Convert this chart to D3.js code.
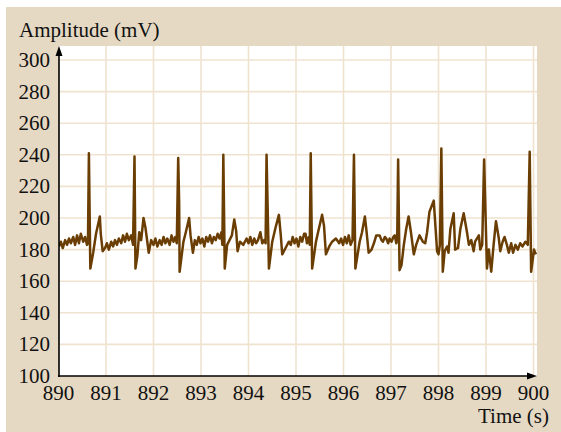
<!DOCTYPE html>
<html lang="en">

<head>
    <meta charset="UTF-8">
    <title>Amplitude vs Time</title>
    <script src="https://cdn.jsdelivr.net/npm/d3@7/dist/d3.min.js"></script>
    <style>
        body { margin: 0; background: #fff; }
        text { font-family: "Liberation Serif", "Times New Roman", serif; fill: #111; }
    </style>
</head>

<body>
    <svg width="561" height="432"></svg>
    <script>
        // ECG trace: time (s) and amplitude (mV)
        var timeS = [
            890.01, 890.05, 890.09, 890.14, 890.18, 890.22, 890.26, 890.31, 890.35, 890.39, 890.43, 890.47, 890.52, 890.56, 890.60, 890.62,
            890.64, 890.67, 890.73, 890.79, 890.87, 890.89, 890.93, 890.98,
            891.02, 891.06, 891.11, 891.15, 891.19, 891.23, 891.27, 891.32, 891.36, 891.40, 891.44, 891.48, 891.53, 891.57,
            891.60, 891.62, 891.66, 891.70, 891.74, 891.79, 891.83, 891.90, 891.95,
            892.00, 892.04, 892.08, 892.13, 892.17, 892.21, 892.25, 892.29, 892.34, 892.38, 892.42, 892.46, 892.49,
            892.52, 892.54, 892.55, 892.63, 892.68, 892.75, 892.78, 892.83, 892.87,
            892.91, 892.95, 892.99, 893.03, 893.07, 893.11, 893.15, 893.19, 893.23, 893.27, 893.31, 893.35, 893.39, 893.43, 893.45,
            893.47, 893.50, 893.55, 893.65, 893.70, 893.74, 893.77, 893.82, 893.89, 893.96,
            894.00, 894.04, 894.08, 894.12, 894.16, 894.20, 894.25, 894.29, 894.33, 894.36,
            894.38, 894.43, 894.50, 894.57, 894.64, 894.68, 894.71, 894.78, 894.85,
            894.89, 894.93, 894.97, 895.01, 895.05, 895.09, 895.13, 895.17, 895.20, 895.23, 895.27, 895.29,
            895.31, 895.34, 895.42, 895.48, 895.55, 895.59, 895.63, 895.70, 895.76, 895.84, 895.91,
            895.95, 895.99, 896.03, 896.07, 896.11, 896.15, 896.19,
            896.22, 896.25, 896.34, 896.39, 896.45, 896.48, 896.53, 896.59, 896.64, 896.69, 896.76, 896.80, 896.83,
            896.87, 896.90, 896.94, 896.97, 897.01, 897.05, 897.08, 897.11, 897.13,
            897.15, 897.18, 897.22, 897.27, 897.32, 897.37, 897.42, 897.48, 897.53, 897.60, 897.67, 897.72, 897.76, 897.81, 897.90,
            897.97, 898.00, 898.03,
            898.06, 898.09, 898.13, 898.18, 898.21, 898.25, 898.32, 898.35, 898.41, 898.46, 898.53, 898.60, 898.64, 898.69, 898.74,
            898.77, 898.85, 898.88, 898.92,
            898.96, 899.02, 899.06, 899.11, 899.16, 899.21, 899.27, 899.30, 899.35, 899.39, 899.44, 899.48, 899.53, 899.57, 899.62,
            899.67, 899.72, 899.77, 899.83, 899.88,
            899.92, 899.95, 900.01, 900.05
        ]
        var ampMV = [
            182, 185, 181, 186, 183, 187, 184, 188, 183, 189, 184, 190, 185, 188, 183, 184,
            241, 168, 178, 190, 201, 190, 179, 181,
            184, 180, 185, 182, 186, 183, 187, 184, 189, 185, 190, 186, 189, 183,
            239, 168, 176, 191, 186, 200, 194, 178, 186,
            183, 187, 182, 186, 183, 188, 184, 187, 183, 189, 185, 188, 184,
            238, 210, 166, 185, 191, 200, 189, 178, 186,
            183, 188, 184, 187, 182, 188, 185, 189, 184, 188, 186, 190, 187, 191, 183,
            240, 168, 183, 189, 199, 192, 179, 185, 183, 187,
            184, 188, 183, 187, 184, 186, 191, 184, 186, 184,
            240, 168, 185, 194, 202, 189, 177, 181, 185,
            183, 188, 184, 187, 182, 188, 185, 190, 190, 184, 188, 183,
            241, 168, 185, 193, 202, 195, 177, 182, 185, 187, 184,
            187, 183, 188, 184, 189, 183, 186,
            240, 168, 185, 191, 201, 193, 178, 180, 184, 189, 189, 186, 185,
            188, 187, 184, 187, 185, 188, 189, 184, 186,
            237, 167, 170, 183, 193, 201, 191, 177, 183, 189, 185, 184, 191, 204, 211,
            179, 177, 183,
            244, 166, 179, 182, 178, 193, 203, 180, 181, 193, 203, 191, 183, 186, 179,
            185, 189, 180, 183,
            237, 168, 180, 166, 183, 198, 187, 179, 185, 188, 183, 178, 184, 178, 183,
            180, 184, 182, 185, 183,
            242, 166, 180, 177
        ]
        var xTicks = [890, 891, 892, 893, 894, 895, 896, 897, 898, 899, 900]
        var yTicks = [100, 120, 140, 160, 180, 200, 220, 240, 260, 280, 300]

        var svg = d3.select('svg')
        var plot = { left: 59, top: 46, right: 537, bottom: 376 }

        // beige frame and white plotting area
        svg.append('rect').attr('x', 6).attr('y', 7).attr('width', 555).attr('height', 425).attr('fill', '#e6d9c3')
        svg.append('rect').attr('x', plot.left).attr('y', plot.top)
            .attr('width', plot.right - plot.left).attr('height', plot.bottom - plot.top).attr('fill', '#fff')

        var x = d3.scaleLinear().domain([890, 900]).range([58.5, 533.5])
        var y = d3.scaleLinear().domain([100, 300]).range([376, 60])

        // grid
        var grid = svg.append('g').attr('stroke', '#efe3d0').attr('stroke-width', 1.6)
        grid.selectAll('line.v').data(xTicks.slice(1)).enter().append('line')
            .attr('x1', d => x(d)).attr('x2', d => x(d))
            .attr('y1', plot.top).attr('y2', plot.bottom)
        grid.selectAll('line.h').data(yTicks.slice(1)).enter().append('line')
            .attr('x1', plot.left).attr('x2', plot.right)
            .attr('y1', d => y(d)).attr('y2', d => y(d))

        // signal
        svg.append('clipPath').attr('id', 'clip').append('rect')
            .attr('x', plot.left).attr('y', plot.top)
            .attr('width', plot.right - plot.left).attr('height', plot.bottom - plot.top)
        var line = d3.line().x(d => x(d[0])).y(d => y(d[1]))
        svg.append('path')
            .datum(d3.zip(timeS, ampMV))
            .attr('clip-path', 'url(#clip)')
            .attr('d', line)
            .attr('fill', 'none')
            .attr('stroke', '#6a3d02')
            .attr('stroke-width', 2.5)
            .attr('stroke-linejoin', 'round')

        // axes with arrow heads
        var axes = svg.append('g')
        axes.append('line').attr('x1', 59).attr('x2', 59).attr('y1', plot.bottom + 1).attr('y2', plot.top + 6)
            .attr('stroke', '#000').attr('stroke-width', 1.6)
        axes.append('line').attr('x1', 58).attr('x2', plot.right - 6).attr('y1', 376).attr('y2', 376)
            .attr('stroke', '#000').attr('stroke-width', 1.6)
        axes.append('path').attr('d', 'M59,' + plot.top + ' L55.5,' + (plot.top + 10) + ' L62.5,' + (plot.top + 10) + ' Z').attr('fill', '#000')
        axes.append('path').attr('d', 'M' + plot.right + ',376 L' + (plot.right - 10) + ',372.5 L' + (plot.right - 10) + ',379.5 Z').attr('fill', '#000')

        // tick labels
        svg.append('g').selectAll('text').data(yTicks).enter().append('text')
            .attr('x', 50).attr('y', d => y(d) + 7)
            .attr('text-anchor', 'end').attr('font-size', 21)
            .text(d => d)
        svg.append('g').selectAll('text').data(xTicks).enter().append('text')
            .attr('x', d => x(d)).attr('y', 400)
            .attr('text-anchor', 'middle').attr('font-size', 21)
            .text(d => d)

        // axis titles
        svg.append('text').attr('x', 19).attr('y', 37).attr('font-size', 21).text('Amplitude (mV)')
        svg.append('text').attr('x', 549).attr('y', 423).attr('text-anchor', 'end').attr('font-size', 21).text('Time (s)')
    </script>
</body>

</html>
